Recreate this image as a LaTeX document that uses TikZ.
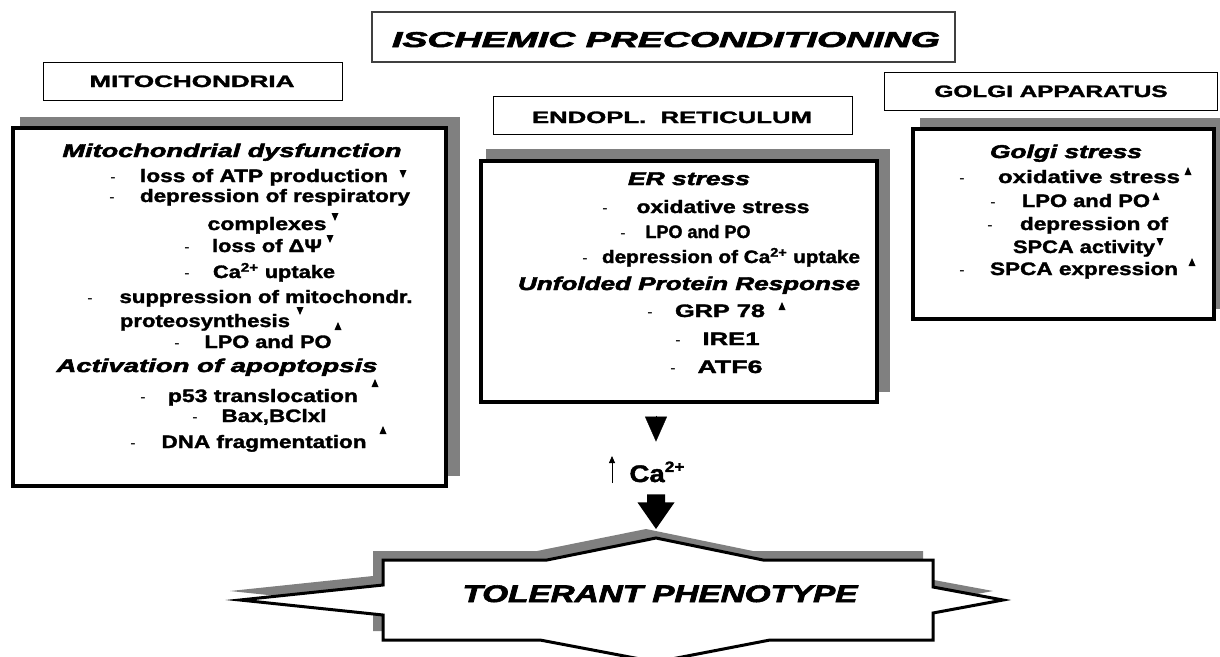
\documentclass[tikz,border=0pt]{standalone}
\usepackage{fontspec}
\setmainfont{Liberation Sans}[BoldFeatures={FakeBold=1.6},BoldItalicFeatures={FakeBold=2.4}]
\usetikzlibrary{arrows.meta,calc}
\definecolor{shadowgray}{HTML}{808080}
\definecolor{titleedge}{HTML}{404040}
\newlength\fwl
\newcommand\fitw[2]{\settowidth\fwl{#2}\pgfmathsetmacro\fwf{#1/\fwl}\scalebox{\fwf}[1]{#2}}
\newcommand\tup[1]{\fill (#1) ++(-3.5,4) -- ++(7,0) -- ++(-3.5,-8) -- cycle;}
\newcommand\tdown[1]{\fill (#1) ++(-3.5,-4) -- ++(7,0) -- ++(-3.5,8) -- cycle;}
\newcommand\supr[1]{\raisebox{0.42em}{\fontsize{15}{15}\selectfont #1}}
\tikzset{
  itm/.style={anchor=base, inner sep=0pt, font=\fontsize{18}{20}\selectfont\bfseries},
  hd/.style={anchor=base, inner sep=0pt, font=\fontsize{18.5}{20}\selectfont\bfseries\itshape},
  dsh/.style={anchor=base, inner sep=0pt, font=\fontsize{16}{18}\selectfont},
  lbl/.style={anchor=base, inner sep=0pt, font=\fontsize{16.5}{18}\selectfont\bfseries},
  hdrbox/.style={draw, line width=1pt, fill=white, inner sep=0pt},
  mainbox/.style={draw, line width=3.2pt, fill=white, inner sep=0pt},
  shadowfill/.style={fill=shadowgray},
}
\begin{document}
\begin{tikzpicture}[x=1pt,y=-1pt]
\useasboundingbox[fill=white] (0,0) rectangle (1220,656);

% ---------- title ----------
\node[draw=titleedge, line width=1.2pt, fill=white, minimum width=583pt, minimum height=50pt, inner sep=0pt] (titlebox) at (663.5,37) {};
\node[anchor=base, inner sep=0pt, font=\fontsize{21.5}{24}\selectfont\bfseries\itshape] (title) at (666,47) {\fitw{548}{ISCHEMIC PRECONDITIONING}};

% ---------- headers ----------
\node[hdrbox, minimum width=299pt, minimum height=38pt] (mhbox) at (192.5,81) {};
\node[lbl] (mh) at (192,87) {\fitw{205}{MITOCHONDRIA}};
\node[hdrbox, minimum width=359pt, minimum height=38pt] (ehbox) at (672.5,115) {};
\node[lbl] (eh) at (672,123) {\fitw{280}{ENDOPL.\ \ RETICULUM}};
\node[hdrbox, minimum width=333pt, minimum height=38pt] (ghbox) at (1050.5,91) {};
\node[lbl] (gh) at (1051,97) {\fitw{233}{GOLGI APPARATUS}};

% ---------- shadows ----------
\fill[shadowfill] (20,117) rectangle (460,476);
\fill[shadowfill] (486,149) rectangle (890,392);
\fill[shadowfill] (920,118) rectangle (1222,309);

% ---------- main boxes ----------
\node[mainbox, minimum width=433pt, minimum height=358pt] (mito) at (229.5,307) {};
\node[mainbox, minimum width=396pt, minimum height=241pt] (er) at (679,281.5) {};
\node[mainbox, minimum width=301pt, minimum height=190pt] (golgi) at (1063.5,224) {};

% ---------- mitochondria text ----------
\node[hd] (mt1) at (232,157) {\fitw{339}{Mitochondrial dysfunction}};
\node[dsh] (md1) at (113,182) {-};
\node[itm] (m1) at (264,182) {\fitw{248}{loss of ATP production}};
\tdown{403,174}
\node[dsh] (md2) at (112,202) {-};
\node[itm] (m2) at (275,202) {\fitw{270}{depression of respiratory}};
\node[itm] (m3) at (267,230) {\fitw{119}{complexes}};
\tdown{335,217}
\node[dsh] (md4) at (187,252) {-};
\node[itm] (m4) at (267,252) {\fitw{110}{loss of ΔΨ}};
\tdown{330,239}
\node[dsh] (md5) at (187,278) {-};
\node[itm] (m5) at (274,278) {\fitw{122}{Ca\textsuperscript{2+} uptake}};
\node[dsh] (md6) at (90,303) {-};
\node[itm] (m6) at (266,303) {\fitw{293}{suppression of mitochondr.}};
\node[itm] (m7) at (205,327) {\fitw{170}{proteosynthesis}};
\tdown{300,311}
\node[dsh] (md8) at (177,348) {-};
\node[itm] (m8) at (268,348) {\fitw{127}{LPO and PO}};
\tup{338,326}
\node[hd] (mt2) at (217,372) {\fitw{321}{Activation of apoptopsis}};
\tup{375,383}
\node[dsh] (md10) at (143,402) {-};
\node[itm] (m10) at (263,402) {\fitw{190}{p53 translocation}};
\node[dsh] (md11) at (195,422) {-};
\node[itm] (m11) at (274,422) {\fitw{105}{Bax,BClxl}};
\tup{383,430}
\node[dsh] (md12) at (133,448) {-};
\node[itm] (m12) at (264,448) {\fitw{205}{DNA fragmentation}};

% ---------- ER text ----------
\node[hd] (et1) at (689,185) {\fitw{122}{ER stress}};
\node[dsh] (ed1) at (605,213) {-};
\node[itm] (e1) at (723,213) {\fitw{173}{oxidative stress}};
\node[dsh] (ed2) at (623,238) {-};
\node[itm] (e2) at (698,238) {LPO and PO};
\node[dsh] (ed3) at (585,263) {-};
\node[itm] (e3) at (731,263) {\fitw{258}{depression of Ca\textsuperscript{2+} uptake}};
\node[hd] (et2) at (689,290) {\fitw{342}{Unfolded Protein Response}};
\node[dsh] (ed5) at (650,317) {-};
\node[itm] (e5) at (720,317) {\fitw{90}{GRP 78}};
\tup{782,306}
\node[dsh] (ed6) at (678,345) {-};
\node[itm] (e6) at (731,345) {\fitw{57}{IRE1}};
\node[dsh] (ed7) at (673,373) {-};
\node[itm] (e7) at (730,373) {\fitw{65}{ATF6}};

% ---------- Golgi text ----------
\node[hd] (gt1) at (1066,158) {\fitw{152}{Golgi stress}};
\node[dsh] (gd1) at (962,183) {-};
\node[itm] (g1) at (1089,183) {\fitw{182}{oxidative stress}};
\tup{1188,171}
\node[dsh] (gd2) at (993,207) {-};
\node[itm] (g2) at (1086,207) {\fitw{128}{LPO and PO}};
\tup{1156,196}
\node[dsh] (gd3) at (990,230) {-};
\node[itm] (g3) at (1094,230) {\fitw{148}{depression of}};
\node[itm] (g4) at (1084,253) {\fitw{142}{SPCA activity}};
\tdown{1160,242}
\node[dsh] (gd5) at (962,275) {-};
\node[itm] (g5) at (1084,275) {\fitw{188}{SPCA expression}};
\tup{1192,262}

% ---------- Ca2+ ----------
\node[anchor=base, inner sep=0pt, font=\fontsize{24}{26}\selectfont\bfseries] (ca) at (657,482) {\fitw{55}{Ca\supr{2+}}};
\coordinate (upa) at (612,483);
\coordinate (upb) at (612,456);
\draw[line width=0.8pt, -{Triangle[length=7pt,width=6pt]}] (upa) -- (upb);

% ER -> Ca triangle
\coordinate (a1a) at ($(er.south)+(-23,12)$);
\coordinate (a1b) at ($(er.south)+(-23,38)$);
\draw[line width=0.3pt, -{Triangle[length=25pt,width=22pt]}] (a1a) -- (a1b);

% Ca -> tolerant block arrow
\coordinate (b1) at ($(ca.south)+(-1,12)$);
\coordinate (b2) at (656,529);
\fill ($(b1)+(-9,0)$) -- ($(b1)+(9,0)$) -- ($(b1)+(9,8)$) -- ($(b1)+(18.5,8)$) -- (b2)
      -- ($(b1)+(-18.5,8)$) -- ($(b1)+(-9,8)$) -- cycle;

% ---------- tolerant phenotype ----------
\fill[shadowfill, shift={(-10,-9)}] (240,600) -- (383,585) -- (383,560) -- (547,560) -- (656,538) -- (763,560) -- (933,560) -- (933,587) -- (1003,600) -- (933,613) -- (933,640) -- (770,640) -- (656,662) -- (540,640) -- (383,640) -- (383,615) -- cycle;
\filldraw[fill=white, draw=black, line width=3pt, line join=miter] (240,600) -- (383,585) -- (383,560) -- (547,560) -- (656,538) -- (763,560) -- (933,560) -- (933,587) -- (1003,600) -- (933,613) -- (933,640) -- (770,640) -- (656,662) -- (540,640) -- (383,640) -- (383,615) -- cycle;
\node[anchor=base, inner sep=0pt, font=\fontsize{24}{26}\selectfont\bfseries\itshape] (tol) at (660,602) {\fitw{395}{TOLERANT PHENOTYPE}};
\end{tikzpicture}
\end{document}
